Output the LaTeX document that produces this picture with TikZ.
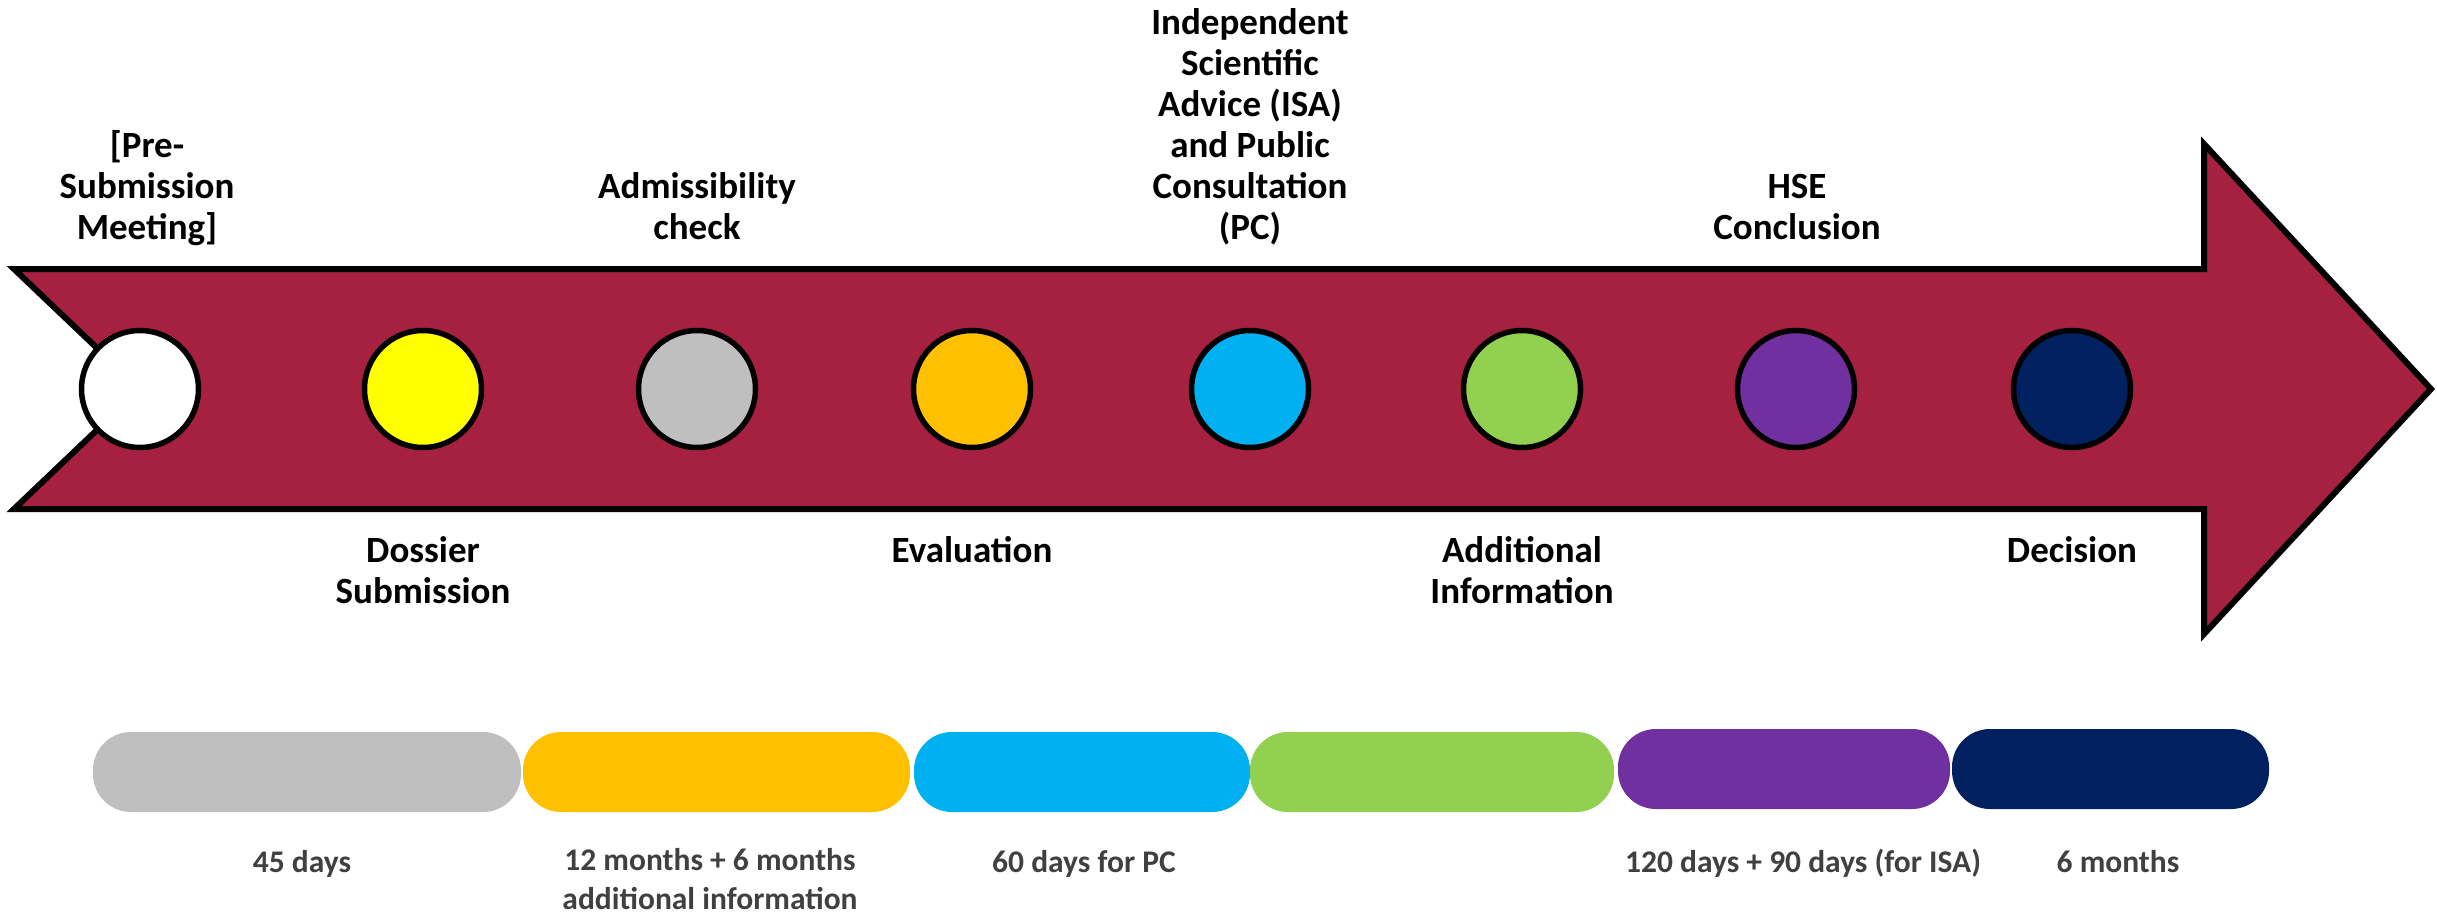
\documentclass[tikz,border=0pt]{standalone}
\usepackage{fontspec}
\setmainfont{Carlito}
\definecolor{arrowred}{RGB}{166,33,64}
\definecolor{cyellow}{RGB}{255,255,0}
\definecolor{cgray}{RGB}{191,191,191}
\definecolor{corange}{RGB}{255,192,0}
\definecolor{cblue}{RGB}{0,176,240}
\definecolor{cgreen}{RGB}{146,208,80}
\definecolor{cpurple}{RGB}{112,48,160}
\definecolor{cnavy}{RGB}{0,32,96}
\definecolor{durtext}{RGB}{64,64,64}
\begin{document}
\begin{tikzpicture}[x=1pt,y=-1pt,
  dot/.style={circle,draw=black,line width=5.5pt,minimum size=117pt,inner sep=0pt},
  bar/.style={rectangle,rounded corners=38pt,minimum height=80pt,inner sep=0pt},
  lbl/.style={align=center,inner sep=0pt,anchor=base,font=\bfseries\fontsize{37}{41}\selectfont},
  dur/.style={align=center,inner sep=0pt,anchor=base,text=durtext,font=\bfseries\fontsize{31.5}{39}\selectfont}]
\useasboundingbox (0,0) rectangle (2437,915);
% arrow
\draw[fill=arrowred,draw=black,line width=6pt]
  (14,269) -- (2204,269) -- (2204,144) -- (2431,389) -- (2204,634) -- (2204,509) -- (14,509) -- (140,389) -- cycle;
% circles
\node[dot,fill=white]   (c1) at (140,389) {};
\node[dot,fill=cyellow] (c2) at (423,389) {};
\node[dot,fill=cgray]   (c3) at (697,389) {};
\node[dot,fill=corange] (c4) at (972,389) {};
\node[dot,fill=cblue]   (c5) at (1250,389) {};
\node[dot,fill=cgreen]  (c6) at (1522,389) {};
\node[dot,fill=cpurple] (c7) at (1796,389) {};
\node[dot,fill=cnavy]   (c8) at (2072,389) {};
% labels above (anchor at last baseline)
\node[lbl] (l1) at (147,239) {[Pre-\\Submission\\Meeting]};
\node[lbl] (l3) at (697,239) {Admissibility\\check};
\node[lbl] (l5) at (1250,239) {Independent\\Scientific\\Advice (ISA)\\and Public\\Consultation\\(PC)};
\node[lbl] (l7) at (1797,239) {HSE\\Conclusion};
% labels below (anchor at last baseline)
\node[lbl] (l2) at (423,603) {Dossier\\Submission};
\node[lbl] (l4) at (972,562) {Evaluation};
\node[lbl] (l6) at (1522,603) {Additional\\Information};
\node[lbl] (l8) at (2072,562) {Decision};
% duration bars
\node[bar,fill=cgray,minimum width=428pt]   (b1) at (307,772) {};
\node[bar,fill=corange,minimum width=387pt] (b2) at (716.5,772) {};
\node[bar,fill=cblue,minimum width=336pt]   (b3) at (1082,772) {};
\node[bar,fill=cgreen,minimum width=364pt]  (b4) at (1432,772) {};
\node[bar,fill=cpurple,minimum width=332pt] (b5) at (1784,769) {};
\node[bar,fill=cnavy,minimum width=317pt]   (b6) at (2110.5,769) {};
% duration texts
\node[dur] (d1) at (302,872) {45 days};
\node[dur] (d2) at (710,909) {12 months + 6 months\\additional information};
\node[dur] (d3) at (1084,872) {60 days for PC};
\node[dur] (d5) at (1803,872) {120 days + 90 days (for ISA)};
\node[dur] (d6) at (2118,872) {6 months};
\end{tikzpicture}
\end{document}
